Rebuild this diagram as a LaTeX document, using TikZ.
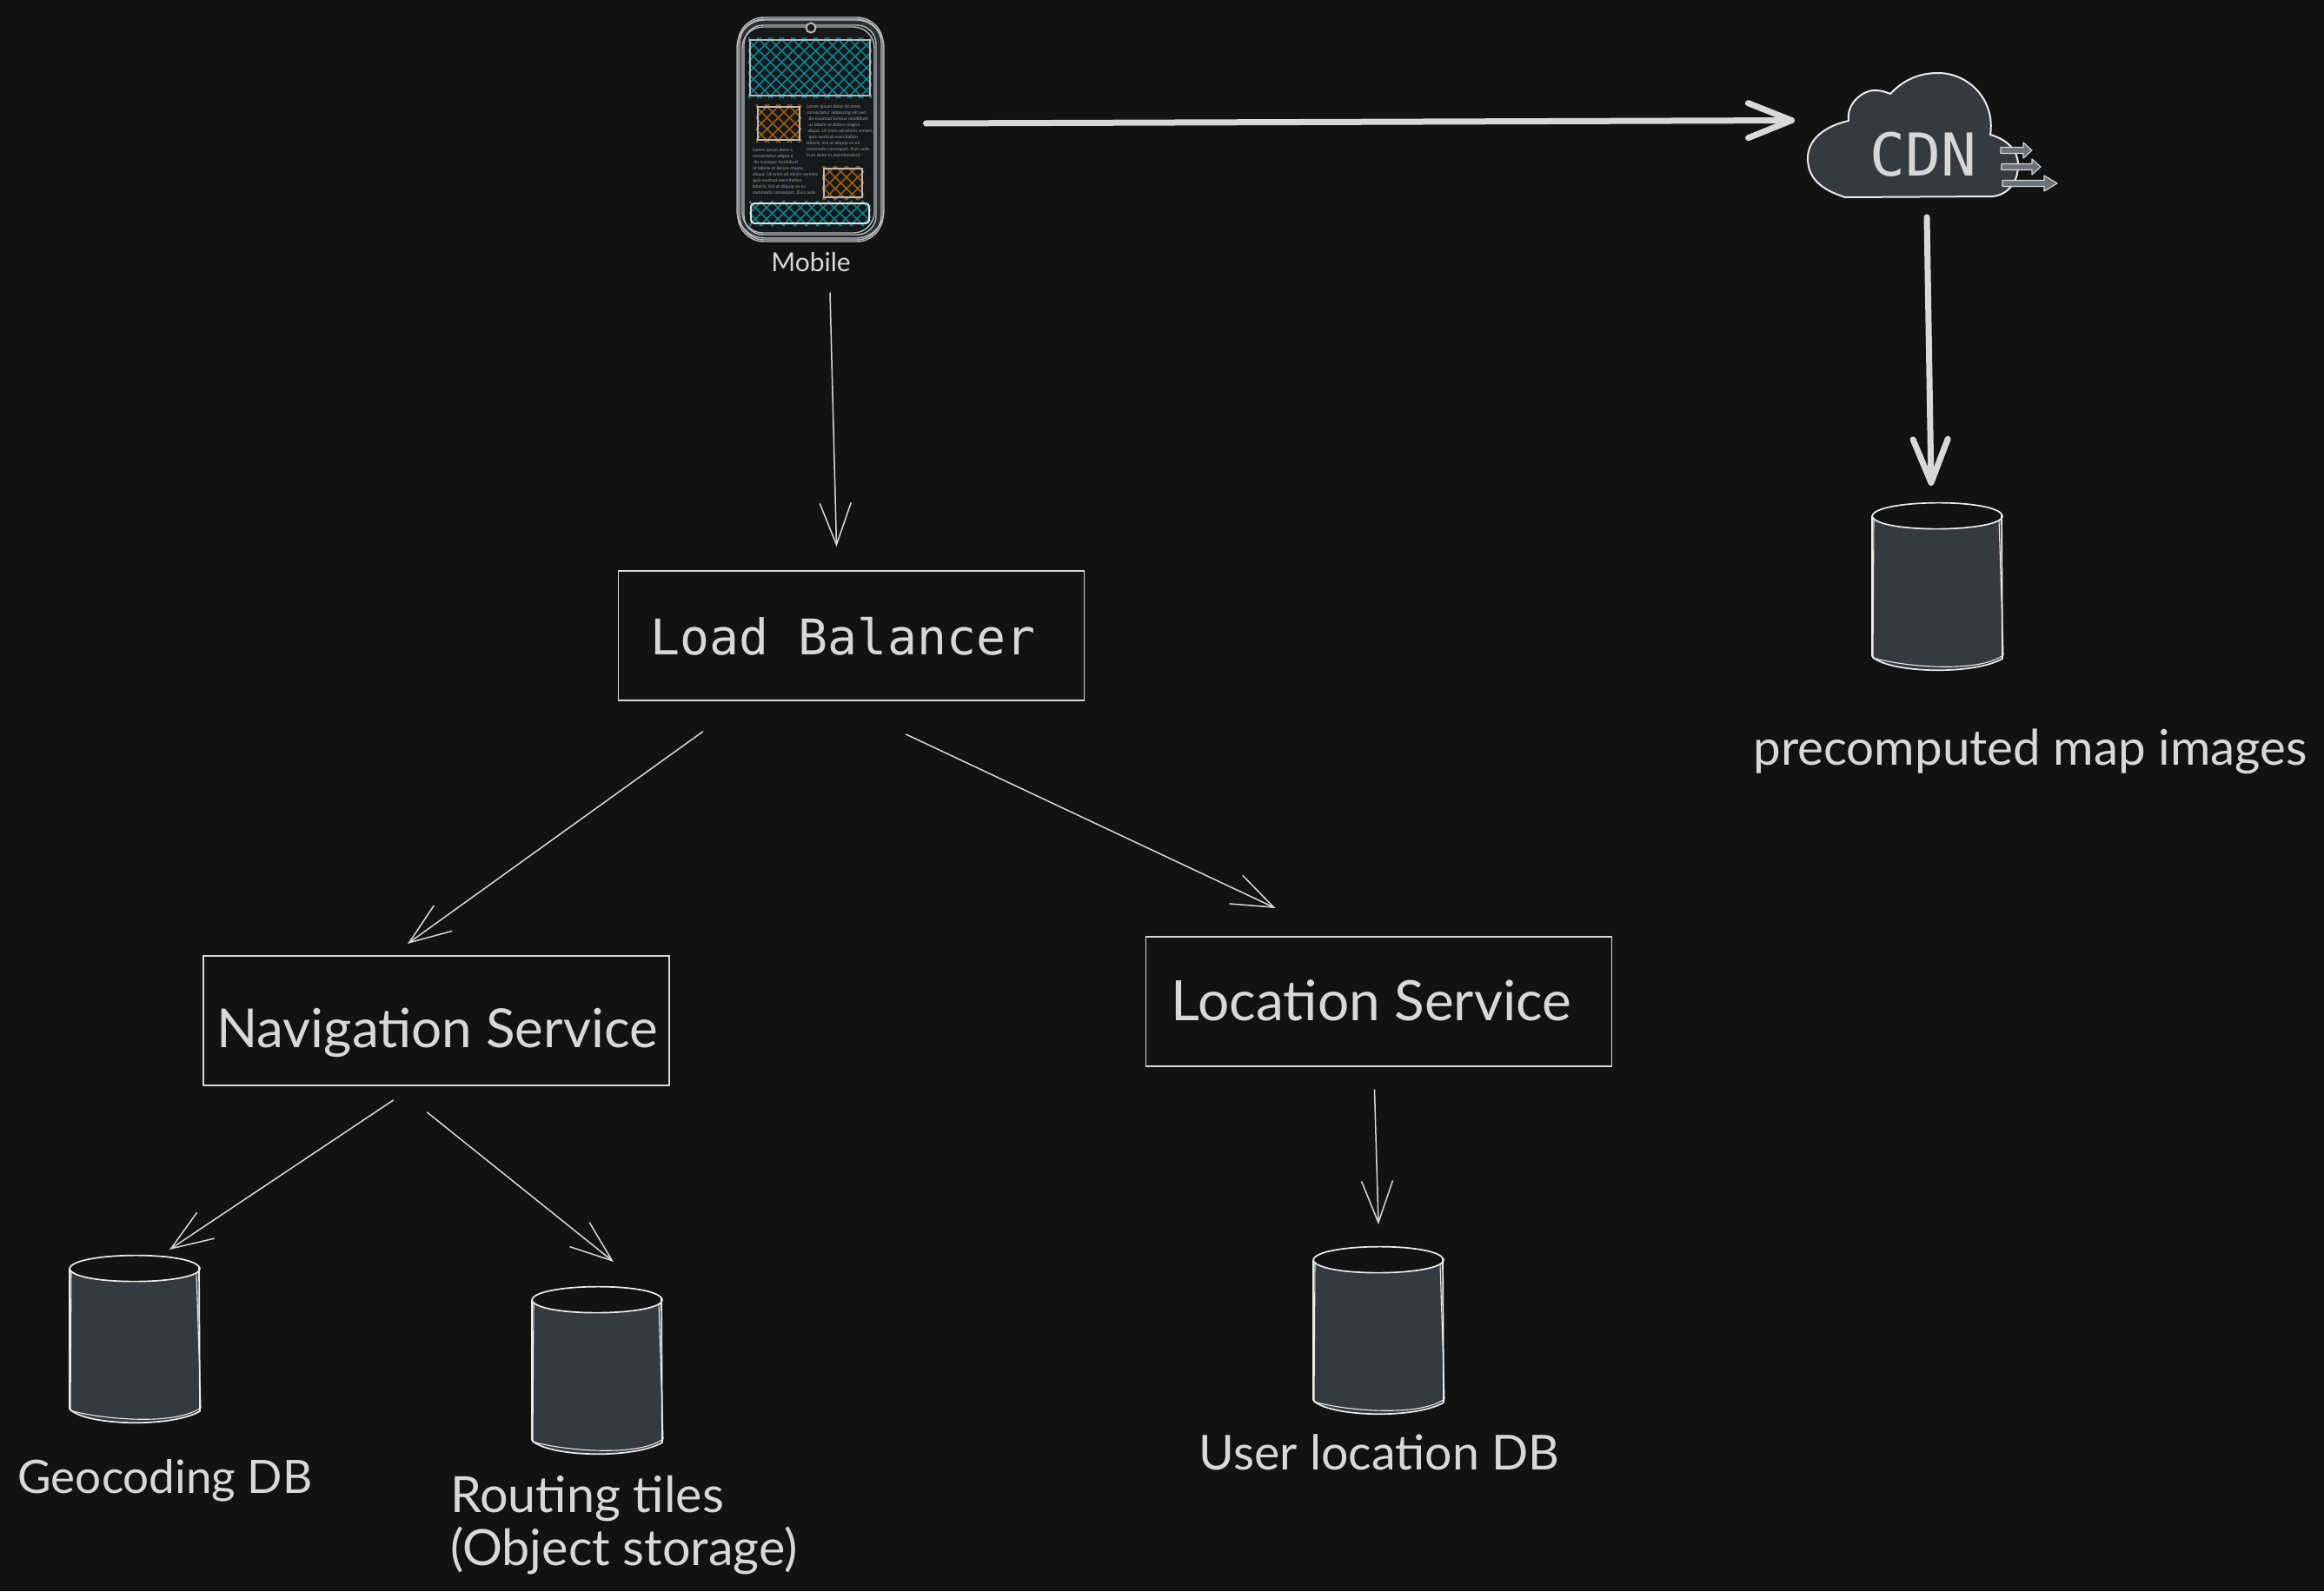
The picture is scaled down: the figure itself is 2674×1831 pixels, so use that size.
\documentclass[tikz,border=0pt]{standalone}
\usepackage{fontspec}
\setmainfont{Lato}
\newfontfamily\monof{DejaVu Sans Mono}
\usetikzlibrary{arrows.meta}
\definecolor{bgc}{HTML}{121212}
\definecolor{inkc}{HTML}{D8D8D8}
\definecolor{fillc}{HTML}{343A3F}
\definecolor{teal}{HTML}{0C8294}
\definecolor{ochre}{HTML}{9E5C0E}
\definecolor{phonec}{HTML}{2A2F33}
\definecolor{screenc}{HTML}{16181A}
\definecolor{miniarrow}{HTML}{6B7277}
\tikzset{
  thinarrow/.style={draw=inkc,line width=1.5pt,line cap=round,-{Straight Barb[length=48pt,width=36pt,line width=1.5pt]}},
  thickarrow/.style={draw=inkc,line width=7pt,line cap=round,-{Straight Barb[length=50pt,width=40pt,line width=7pt,round]}},
  svcbox/.style={draw=inkc,line width=1.6pt,minimum width=536pt,minimum height=149pt,inner sep=0pt,outer sep=0pt},
  hollow/.style={inner sep=0pt,outer sep=0pt},
  handlabel/.style={text=inkc,inner sep=0pt,outer sep=0pt},
  sketch/.style={draw=white!92!black,line width=1.7pt,line join=round},
  phoneline/.style={draw=white!72!black,line width=1.4pt},
}
\newcommand{\dbcyl}[3]{%
  \node[hollow,anchor=north,minimum width=150pt,minimum height=194pt] (#1) at (#2,#3) {};
  \begin{scope}[shift={(#2,#3)}]
    \fill[fillc] (-75,16) -- (-75,180) .. controls (-45,198) and (45,198) .. (75,178) -- (75,16) -- cycle;
    \fill[bgc] (-75,16) .. controls (-72,-4) and (72,-4) .. (75,16) .. controls (72,36) and (-72,36) .. (-75,16) -- cycle;
    \draw[sketch] (-75,16) .. controls (-72,-4) and (72,-5) .. (75,16) .. controls (72,35) and (-70,36) .. (-75,16);
    \draw[sketch] (-75,16) -- (-75,177) .. controls (-60,196) and (40,200) .. (75,180) -- (74,14);
    \draw[sketch,line width=1.1pt] (-73,18) -- (-74,179) .. controls (-45,188) and (45,198) .. (76,176) -- (71,20);
  \end{scope}
}
\newcommand{\hatchrect}[6]{%
  \begin{scope}
    \clip (#1-2,#2-3) rectangle (#3+2,#4+3);
    \pgfmathsetmacro\hgt{#4-#2+6}
    \pgfmathsetmacro\first{#1-\hgt}
    \pgfmathsetmacro\second{\first+#6}
    \foreach \c in {\first,\second,...,#3} {
      \draw[#5,line width=1.5pt] (\c,#2-3) -- (\c+\hgt,#4+3);
      \draw[#5,line width=1.5pt] (\c+\hgt,#2-3) -- (\c,#4+3);
    }
  \end{scope}
}
\newcommand{\miniarrow}[4]{%
  \draw[fill=miniarrow,draw=inkc,line width=1.1pt,line join=round]
    (#1,#4-3.5) -- (#2,#4-3.5) -- (#2,#4-9) -- (#3,#4) -- (#2,#4+9) -- (#2,#4+3.5) -- (#1,#4+3.5) -- cycle;
}
\begin{document}
\begin{tikzpicture}[x=1pt,y=-1pt]
\fill[bgc] (0,0) rectangle (2674,1831);
\useasboundingbox (0,0) rectangle (2674,1831);

% phone
\node[hollow,minimum width=168pt,minimum height=258pt] (mobile) at (932.5,149) {};
\fill[phonec,rounded corners=30pt] (849,20) rectangle (1016,278);
\fill[screenc,rounded corners=22pt] (856,29) rectangle (1008,270);
\draw[phoneline,rounded corners=30pt] (849,20) rectangle (1016,278);
\draw[phoneline,rounded corners=28pt] (851,22) rectangle (1014,276);
\draw[phoneline,rounded corners=32pt] (848,23) rectangle (1017,274);
\draw[phoneline,rounded corners=22pt] (856,29) rectangle (1008,270);
\draw[phoneline,rounded corners=24pt] (854,31) rectangle (1006,268);
\draw[phoneline,fill=screenc,line width=2pt] (933,32) circle [radius=5.5];

\hatchrect{863}{46}{1001}{110}{teal}{13}
\draw[phoneline,line width=2pt] (863,46) rectangle (1001,110);
\hatchrect{872}{123}{920}{161}{ochre}{13}
\draw[phoneline,line width=2pt] (872,123) rectangle (920,161);
\hatchrect{948}{194}{992}{227}{ochre}{13}
\draw[phoneline,line width=2pt] (948,194) rectangle (992,227);
\hatchrect{864}{234}{1000}{257}{teal}{13}
\draw[draw=white!88!black,line width=2pt,rounded corners=4pt] (864,234) rectangle (1000,257);

\node[hollow,anchor=north west,align=left,text=white!62!black,font=\fontsize{5.2}{7}\selectfont] (loremone) at (928,121) {Lorem ipsum dolor sit amet,\\consectetur adipiscing elit,sed\\\ \ do eiusmod tempor incididunt\\\ \ ut labore et dolore magna\\\ aliqua. Ut enim ad minim veniam,\\\ \ quis nostrud exercitation\\laboris, nisi ut aliquip ex ea\\commodo consequat. Duis aute\\irure dolor in reprehenderit :};
\node[hollow,anchor=north west,align=left,text=white!62!black,font=\fontsize{5.2}{7}\selectfont] (loremtwo) at (866,171) {Lorem ipsum dolor s,\\consectetur adipiq d\\\ do cusmpor incididunt\\ut labore et dolore magna\\aliqua. Ut enim ad minim veniam,\\quis nostrud exercitation\\laboris, nisi ut aliquip ex ea\\commodo consequat. Duis aute};

\node[handlabel,font=\fontsize{30}{34}\selectfont] (mobilelabel) at (933,302) {Mobile};

% cloud
\node[hollow,minimum width=242pt,minimum height=143pt] (cdn) at (2201,155) {};
\draw[sketch,fill=fillc,line width=2pt] (2123,227) .. controls (2095,218) and (2080,205) .. (2080,182)
  .. controls (2080,160) and (2100,145) .. (2127,139)
  .. controls (2124,118) and (2145,103) .. (2158,104)
  .. controls (2165,104) and (2170,106) .. (2175,108)
  .. controls (2190,92) and (2208,84) .. (2230,84)
  .. controls (2265,84) and (2296,115) .. (2290,155)
  .. controls (2308,160) and (2322,172) .. (2322,190)
  .. controls (2322,210) and (2310,224) .. (2293,226) -- cycle;
\node[text=inkc,hollow,font=\monof\fontsize{68}{70}\selectfont] (cdnlabel) at (2213,178) {CDN};
\miniarrow{2302}{2328}{2338}{173}
\miniarrow{2303}{2338}{2348}{192}
\miniarrow{2304}{2352}{2367}{211}

% services
\node[svcbox] (lb) at (979.5,731.5) {};
\node[text=inkc,hollow,font=\monof\fontsize{56.5}{60}\selectfont] (lblabel) at (970,732) {Load Balancer};
\node[svcbox] (nav) at (502,1174.5) {};
\node[handlabel,font=\fontsize{62}{66}\selectfont] (navlabel) at (503,1188) {Navigation Service};
\node[svcbox] (loc) at (1586.5,1152.5) {};
\node[handlabel,font=\fontsize{64}{68}\selectfont] (loclabel) at (1578,1151) {Location Service};

% databases
\dbcyl{mapdb}{2229}{578}
\dbcyl{geodb}{155}{1444}
\dbcyl{routedb}{687}{1480}
\dbcyl{userdb}{1586}{1434}

\node[handlabel,font=\fontsize{56.5}{60}\selectfont] (maplabel) at (2336,865) {precomputed map images};
\node[handlabel,font=\fontsize{53}{57}\selectfont] (geolabel) at (190,1704) {Geocoding DB};
\node[handlabel,align=left,anchor=west,font=\fontsize{57.5}{61}\selectfont] (routelabel) at (518,1755) {Routing tiles\\(Object storage)};
\node[handlabel,font=\fontsize{55.5}{60}\selectfont] (userlabel) at (1587,1671) {User location DB};

% connectors
\draw[thinarrow] ([shift={(22.5,59)}]mobile.south) -- ([shift={(-17,-28)}]lb.north);
\draw[thinarrow] ([shift={(-171,36)}]lb.south) -- ([shift={(-33,-14)}]nav.north);
\draw[thinarrow] ([shift={(63,39)}]lb.south) -- ([shift={(-119,-33)}]loc.north);
\draw[thinarrow] ([shift={(-49.5,17)}]nav.south) -- ([shift={(40,-6)}]geodb.north);
\draw[thinarrow] ([shift={(-10.5,31)}]nav.south) -- ([shift={(19,-28)}]routedb.north);
\draw[thinarrow] ([shift={(-5,27)}]loc.south) -- ([shift={(0,-25)}]userdb.north);
\draw[thickarrow] ([shift={(49,-7)}]mobile.east) -- ([shift={(-15,-16.5)}]cdn.west);
\draw[thickarrow] ([shift={(16,23.5)}]cdn.south) -- ([shift={(-7,-19)}]mapdb.north);
\end{tikzpicture}
\end{document}
